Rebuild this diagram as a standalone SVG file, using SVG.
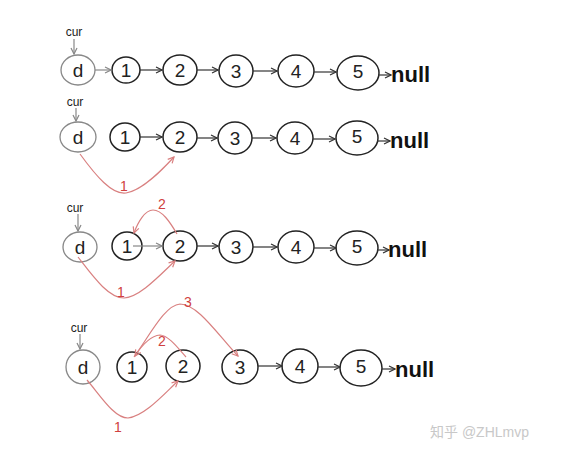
<svg xmlns="http://www.w3.org/2000/svg" width="564" height="456" viewBox="0 0 564 456">
<style>
.n{fill:none;stroke:#222;stroke-width:1.5}
.g{fill:none;stroke:#888;stroke-width:1.3}
.t{font-family:"Liberation Sans",sans-serif;font-size:19px;fill:#222;text-anchor:middle}
.nl{font-family:"Liberation Sans",sans-serif;font-size:22px;font-weight:bold;fill:#111}
.cur{font-family:"Liberation Sans",sans-serif;font-size:12px;fill:#222;text-anchor:middle}
.e{fill:none;stroke:#333;stroke-width:1.2;marker-end:url(#a)}
.eg{fill:none;stroke:#888;stroke-width:1.2;marker-end:url(#ag)}
.r{fill:none;stroke:#d98080;stroke-width:1.2;marker-end:url(#ar)}
.rt{font-family:"Liberation Sans",sans-serif;font-size:14px;fill:#d04040;text-anchor:middle}
</style>
<defs>
<marker id="a" markerWidth="8" markerHeight="8" refX="7" refY="4" orient="auto" markerUnits="userSpaceOnUse"><path d="M1,1 L7,4 L1,7" fill="none" stroke="#333" stroke-width="1.2"/></marker>
<marker id="ag" markerWidth="8" markerHeight="8" refX="7" refY="4" orient="auto" markerUnits="userSpaceOnUse"><path d="M1,1 L7,4 L1,7" fill="none" stroke="#888" stroke-width="1.2"/></marker>
<marker id="ar" markerWidth="8" markerHeight="8" refX="7" refY="4" orient="auto" markerUnits="userSpaceOnUse"><path d="M1,1 L7,4 L1,7" fill="none" stroke="#d98080" stroke-width="1.2"/></marker>
</defs>
<rect width="564" height="456" fill="#fff"/>

<!-- Row 1 -->
<g id="r1-cur"><text class="cur" x="74" y="36">cur</text></g>
<g id="r1-d"><ellipse class="g" cx="78" cy="70" rx="17" ry="15"/><text class="t" x="78" y="77">d</text></g>
<g id="r1-1"><ellipse class="n" cx="126" cy="70" rx="14" ry="13"/><text class="t" x="126" y="77">1</text></g>
<g id="r1-2"><ellipse class="n" cx="180" cy="70" rx="17" ry="15"/><text class="t" x="180" y="77">2</text></g>
<g id="r1-3"><ellipse class="n" cx="236" cy="71" rx="17" ry="16"/><text class="t" x="236" y="78">3</text></g>
<g id="r1-4"><ellipse class="n" cx="296" cy="71" rx="18" ry="16"/><text class="t" x="296" y="78">4</text></g>
<g id="r1-5"><ellipse class="n" cx="358" cy="73" rx="21" ry="17"/><text class="t" x="358" y="78">5</text></g>
<g id="r1-null"><text class="nl" x="391" y="82">null</text></g>

<!-- Row 2 -->
<g id="r2-cur"><text class="cur" x="75" y="106">cur</text></g>
<g id="r2-d"><ellipse class="g" cx="78" cy="137" rx="18" ry="15"/><text class="t" x="78" y="144">d</text></g>
<g id="r2-1"><ellipse class="n" cx="125" cy="137" rx="15" ry="14"/><text class="t" x="125" y="144">1</text></g>
<g id="r2-2"><ellipse class="n" cx="180" cy="137" rx="17" ry="15"/><text class="t" x="180" y="144">2</text></g>
<g id="r2-3"><ellipse class="n" cx="235" cy="138" rx="17" ry="16"/><text class="t" x="235" y="145">3</text></g>
<g id="r2-4"><ellipse class="n" cx="295" cy="138" rx="18" ry="16"/><text class="t" x="295" y="145">4</text></g>
<g id="r2-5"><ellipse class="n" cx="357" cy="138" rx="21" ry="17"/><text class="t" x="357" y="143">5</text></g>
<g id="r2-null"><text class="nl" x="390" y="148">null</text></g>

<!-- Row 3 -->
<g id="r3-cur"><text class="cur" x="75" y="212">cur</text></g>
<g id="r3-d"><ellipse class="g" cx="80" cy="247" rx="17" ry="15"/><text class="t" x="80" y="254">d</text></g>
<g id="r3-1"><ellipse class="n" cx="127" cy="246" rx="15" ry="14"/><text class="t" x="127" y="253">1</text></g>
<g id="r3-2"><ellipse class="n" cx="180" cy="246" rx="17" ry="15"/><text class="t" x="180" y="253">2</text></g>
<g id="r3-3"><ellipse class="n" cx="236" cy="247" rx="17" ry="16"/><text class="t" x="236" y="254">3</text></g>
<g id="r3-4"><ellipse class="n" cx="296" cy="247" rx="18" ry="16"/><text class="t" x="296" y="254">4</text></g>
<g id="r3-5"><ellipse class="n" cx="357" cy="248" rx="21" ry="17"/><text class="t" x="357" y="253">5</text></g>
<g id="r3-null"><text class="nl" x="388" y="257">null</text></g>

<!-- Row 4 -->
<g id="r4-cur"><text class="cur" x="79" y="332">cur</text></g>
<g id="r4-d"><ellipse class="g" cx="83" cy="367" rx="17" ry="17"/><text class="t" x="83" y="374">d</text></g>
<g id="r4-1"><ellipse class="n" cx="132" cy="367" rx="15" ry="15"/><text class="t" x="132" y="374">1</text></g>
<g id="r4-2"><ellipse class="n" cx="183" cy="366" rx="17" ry="16"/><text class="t" x="183" y="373">2</text></g>
<g id="r4-3"><ellipse class="n" cx="240" cy="367" rx="18" ry="17"/><text class="t" x="240" y="374">3</text></g>
<g id="r4-4"><ellipse class="n" cx="300" cy="366" rx="18" ry="17"/><text class="t" x="300" y="373">4</text></g>
<g id="r4-5"><ellipse class="n" cx="361" cy="368" rx="21" ry="18"/><text class="t" x="361" y="373">5</text></g>
<g id="r4-null"><text class="nl" x="395" y="377">null</text></g>

<g id="connectors">
<!-- cur arrows -->
<path class="eg" d="M74,39 L74,54"/>
<path class="eg" d="M76,108 L76,121"/>
<path class="eg" d="M78,214 L78,231"/>
<path class="eg" d="M80,334 L80,349"/>
<!-- row1 -->
<path class="eg" d="M95,70 L111,70"/>
<path class="e" d="M140,70 L162,70"/>
<path class="e" d="M197,70 L218,70"/>
<path class="e" d="M253,71 L277,71"/>
<path class="e" d="M314,72 L336,72"/>
<path class="e" d="M378,75 L391,75"/>
<!-- row2 -->
<path class="e" d="M140,137 L162,137"/>
<path class="e" d="M197,138 L217,138"/>
<path class="e" d="M252,138 L276,138"/>
<path class="e" d="M313,139 L335,139"/>
<path class="e" d="M377,141 L390,141"/>
<path class="r" d="M80,154 C96,176 112,195 126,193 C142,191 162,170 174,157"/>
<!-- row3 -->
<path class="eg" d="M133,246 L162,246"/>
<path class="e" d="M197,246 L218,246"/>
<path class="e" d="M253,247 L277,247"/>
<path class="e" d="M314,248 L336,248"/>
<path class="e" d="M377,250 L389,250"/>
<path class="r" d="M78,257 C92,275 108,298 124,298 C140,297 160,275 175,261"/>
<path class="r" d="M177,234 C170,222 162,210 153,210 C145,210 138,222 134,233"/>
<!-- row4 -->
<path class="e" d="M258,366 L282,366"/>
<path class="e" d="M318,367 L340,367"/>
<path class="e" d="M382,369 L395,369"/>
<path class="r" d="M87,380 C100,395 114,418 128,418 C145,416 165,393 178,381"/>
<path class="r" d="M186,357 C178,348 168,335 160,335 C150,336 142,345 135,356"/>
<path class="r" d="M134,357 C150,335 165,305 180,304 C198,304 218,335 238,356"/>
</g>

<g id="labels">
<text class="rt" x="124" y="191">1</text>
<text class="rt" x="121" y="297">1</text>
<text class="rt" x="162" y="209">2</text>
<text class="rt" x="162" y="346">2</text>
<text class="rt" x="188" y="307">3</text>
<text class="rt" x="118" y="432">1</text>
</g>

<text x="430" y="437" font-family="'Liberation Sans','Noto Sans CJK SC',sans-serif" font-size="14" fill="#c8c8c8">知乎 @ZHLmvp</text>
</svg>
